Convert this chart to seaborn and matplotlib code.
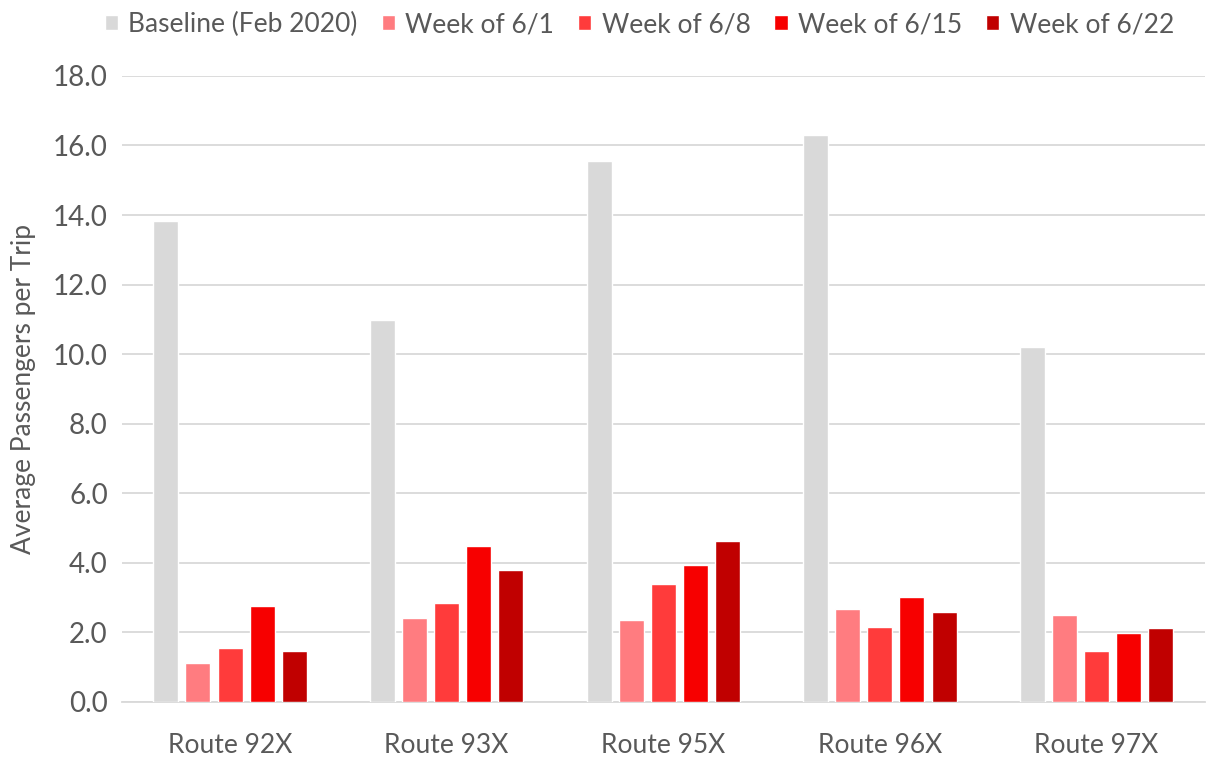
import pandas as pd
import numpy as np
import matplotlib.pyplot as plt
import seaborn as sns

# >> values
routes = ['Route 92X', 'Route 93X', 'Route 95X', 'Route 96X', 'Route 97X']
series = ['Baseline (Feb 2020)', 'Week of 6/1', 'Week of 6/8', 'Week of 6/15', 'Week of 6/22']
baseline = [13.84, 10.98, 15.55, 16.31, 10.22]
week_6_1 = [1.13, 2.42, 2.36, 2.68, 2.49]
week_6_8 = [1.54, 2.85, 3.39, 2.16, 1.46]
week_6_15 = [2.77, 4.47, 3.94, 3.01, 1.97]
week_6_22 = [1.46, 3.80, 4.64, 2.59, 2.14]
colors = ['#d9d9d9', '#ff7c80', '#ff3b3b', '#f70000', '#c00000']

# Build a long-form table
values = [baseline, week_6_1, week_6_8, week_6_15, week_6_22]
rows = []
for name, vals in zip(series, values):
    for route, v in zip(routes, vals):
        rows.append({'Route': route, 'Series': name, 'Value': v})
df = pd.DataFrame(rows)

sns.set_style('white')
plt.rcParams['font.family'] = ['Lato', 'DejaVu Sans']
text_color = '#595959'

fig = plt.figure(figsize=(12.17, 7.57), dpi=100)
ax = fig.add_axes([0.1, 0.0727, 0.89, 0.827])

sns.barplot(data=df, x='Route', y='Value', hue='Series', hue_order=series,
            palette=colors, width=0.74, gap=0.22, saturation=1, ax=ax,
            errorbar=None, zorder=3)

ax.set_ylim(0, 18)
ax.set_yticks(np.arange(0, 18.1, 2))
ax.set_yticklabels([f'{t:.1f}' for t in np.arange(0, 18.1, 2)])
ax.yaxis.grid(True, color='#d9d9d9', linewidth=1.3, zorder=0)
ax.set_axisbelow(True)
for side in ['top', 'right', 'left']:
    ax.spines[side].set_visible(False)
ax.spines['bottom'].set_color('#d9d9d9')
ax.spines['bottom'].set_linewidth(1.3)
ax.tick_params(axis='y', length=0, labelsize=20, colors=text_color, pad=10)
ax.tick_params(axis='x', length=0, labelsize=19, colors=text_color, pad=22)
ax.set_xlabel('')
ax.set_ylabel('Average Passengers per Trip', fontsize=19, color=text_color, labelpad=12)

ax.legend(loc='upper center', bbox_to_anchor=(0.478, 1.14), ncol=5, frameon=False,
          fontsize=19, handlelength=0.5, handleheight=0.5, handletextpad=0.4,
          columnspacing=0.9, labelcolor=text_color)

plt.savefig('out.png', dpi=100)
